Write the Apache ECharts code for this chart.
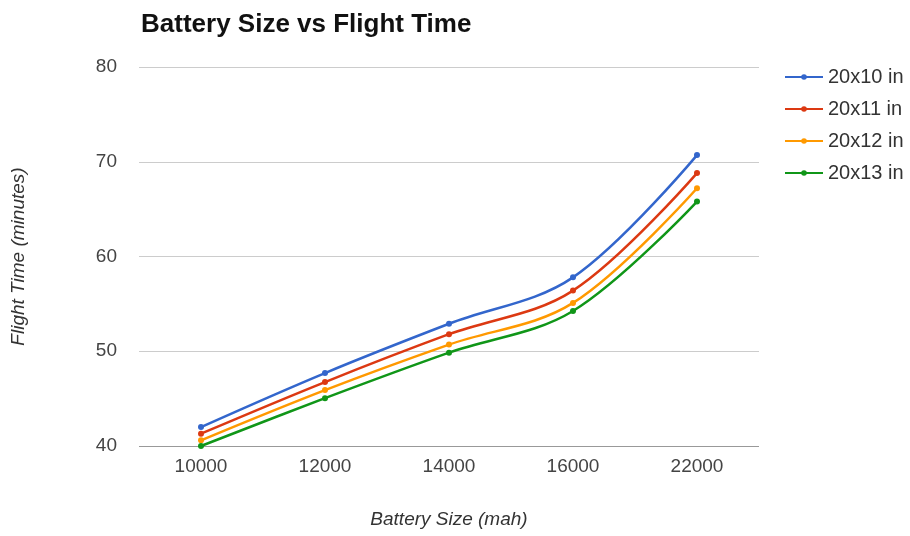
<!DOCTYPE html>
<html><head><meta charset="utf-8">
<script src="https://cdn.jsdelivr.net/npm/echarts@6/dist/echarts.min.js"></script>
<style>html,body{margin:0;padding:0;background:#fff}#c{width:910px;height:536px}</style>
</head><body><div id="c"></div>
<script>
const categories = ['10000','12000','14000','16000','22000'];
const seriesNames = ['20x10 in','20x11 in','20x12 in','20x13 in'];
const s20x10 = [42.0, 47.7, 52.9, 57.8, 70.7];
const s20x11 = [41.3, 46.75, 51.8, 56.4, 68.8];
const s20x12 = [40.6, 45.9, 50.7, 55.1, 67.2];
const s20x13 = [40.0, 45.05, 49.85, 54.25, 65.8];
const yTicks = [40, 50, 60, 70, 80];
const colors = ['#3366cc','#dc3912','#ff9900','#109618'];
const allData = [s20x10, s20x11, s20x12, s20x13];

const chart = echarts.init(document.getElementById('c'));
chart.setOption({
  animation: false,
  color: colors,
  textStyle: {fontFamily: 'Liberation Sans, Arial, sans-serif'},
  title: {
    text: 'Battery Size vs Flight Time',
    left: 136, top: 7,
    textStyle: {fontSize: 26, fontWeight: 'bold', color: '#111', fontFamily: 'Liberation Sans, Arial, sans-serif'}
  },
  legend: {
    orient: 'vertical',
    left: 779, top: 62,
    itemWidth: 38, itemHeight: 7, itemGap: 12,
    data: seriesNames,
    textStyle: {fontSize: 20, color: '#333', padding: [0,0,0,0]}
  },
  grid: {left: 139, right: 151, top: 67, bottom: 90, outerBoundsMode: 'none', containLabel: false},
  xAxis: {
    type: 'category',
    data: categories,
    boundaryGap: true,
    name: 'Battery Size (mah)',
    nameLocation: 'middle',
    nameGap: 64,
    nameTextStyle: {fontStyle: 'italic', fontSize: 19, color: '#333'},
    axisLine: {show: false},
    axisTick: {show: false},
    axisLabel: {fontSize: 19, color: '#444', margin: 11}
  },
  yAxis: {
    type: 'value',
    min: yTicks[0], max: yTicks[yTicks.length-1], interval: 10,
    name: 'Flight Time (minutes)',
    nameLocation: 'middle',
    nameGap: 111,
    nameRotate: 90,
    nameTextStyle: {fontStyle: 'italic', fontSize: 19, color: '#333'},
    axisLine: {show: false},
    axisTick: {show: false},
    axisLabel: {fontSize: 19, color: '#444', margin: 22},
    splitLine: {lineStyle: {color: ['#999','#ccc','#ccc','#ccc','#ccc'], width: 1}}
  },
  series: seriesNames.map((n, i) => ({
    name: n,
    type: 'line',
    data: allData[i],
    smooth: 0.35,
    symbol: 'circle',
    symbolSize: 6,
    lineStyle: {width: 2.5, color: colors[i]},
    itemStyle: {color: colors[i]}
  }))
});
</script></body></html>
